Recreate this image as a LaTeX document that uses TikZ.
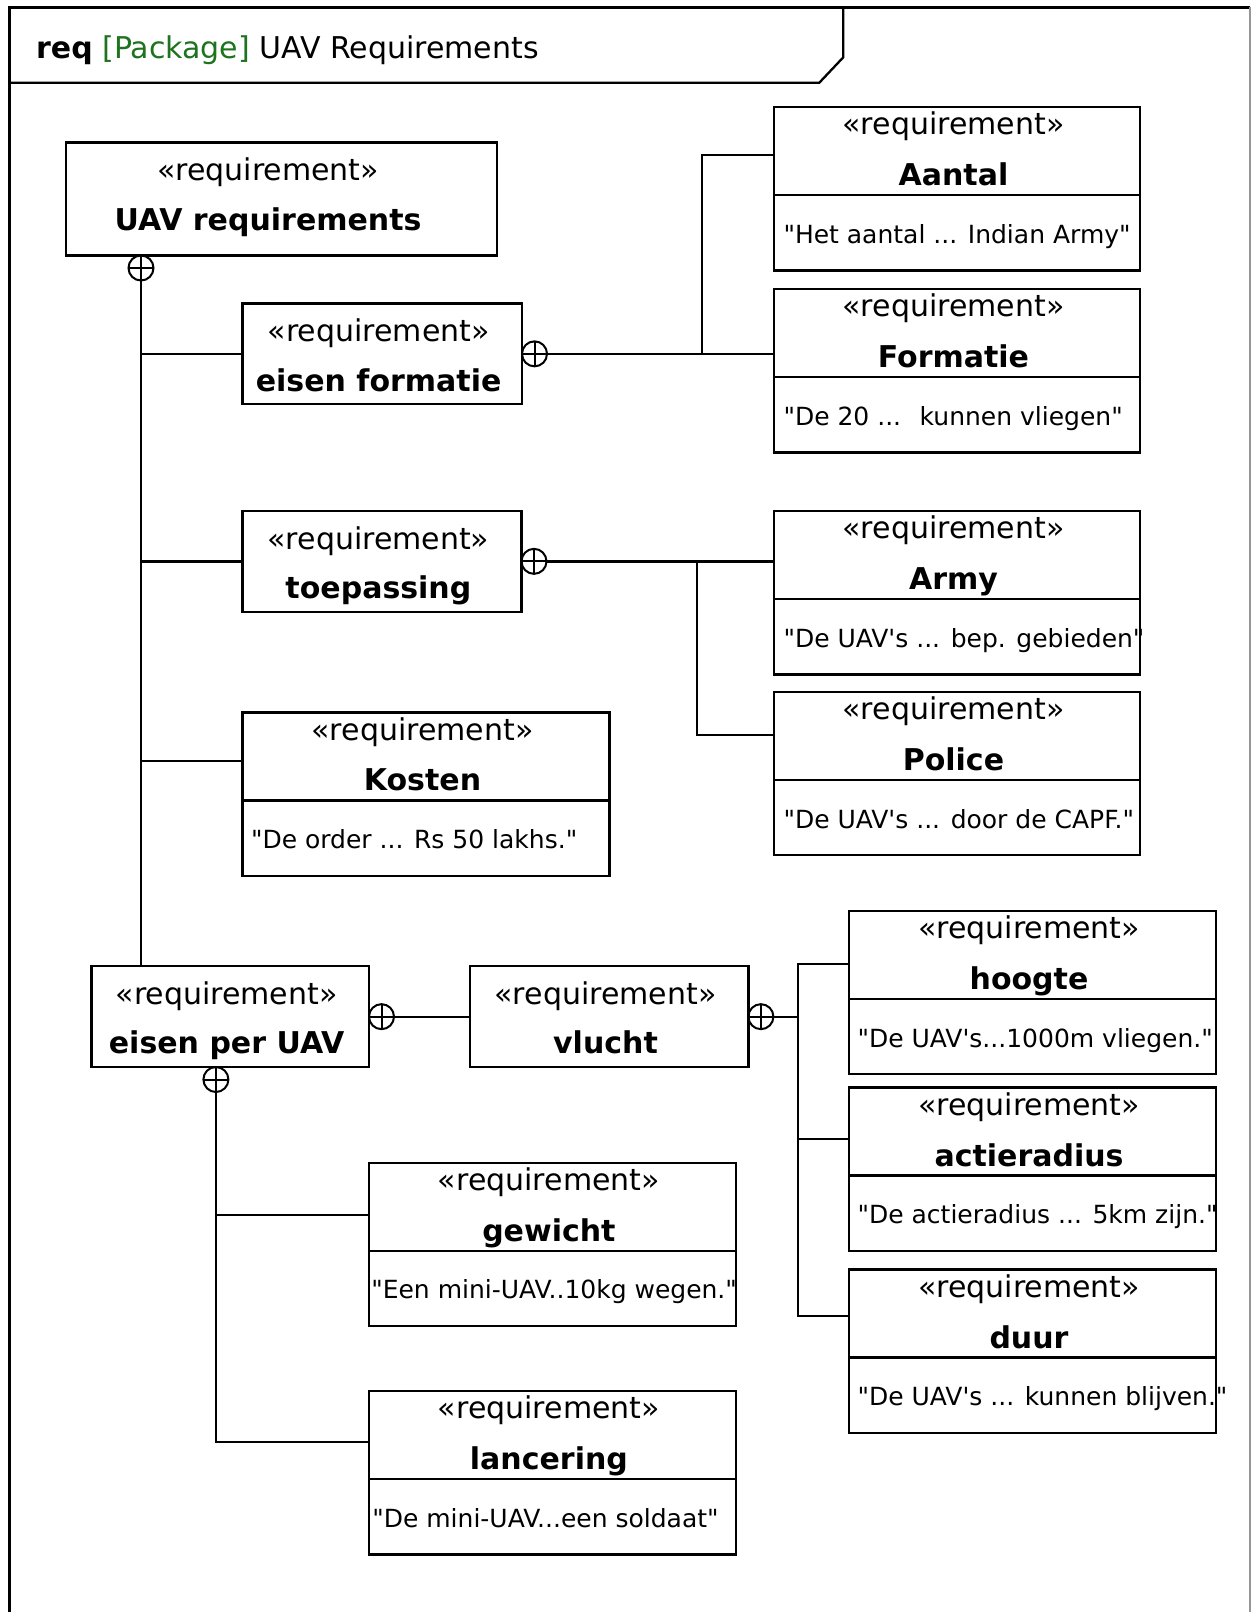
\documentclass[tikz,border=0pt]{standalone}
\usepackage{fontspec}
\setmainfont{DejaVu Sans}[Ligatures=TeXOff]
\usetikzlibrary{calc}
\definecolor{pkggreen}{RGB}{30,115,30}
\definecolor{framegray}{RGB}{150,150,150}

\tikzset{
  boxbase/.style={draw, rectangle, line width=2.3pt, inner sep=0pt, outer sep=0pt, anchor=north west},
  fullbox/.style={boxbase, minimum height=163.5pt},
  plainbox/.style={boxbase, minimum height=100.7pt},
  stereo/.style={font=\fontsize{30}{36}\selectfont, inner sep=0pt, text height=22.5pt, text depth=7.5pt},
  reqname/.style={font=\fontsize{30}{36}\selectfont\bfseries, inner sep=0pt, text height=22.5pt, text depth=7.5pt},
  bodytext/.style={font=\fontsize{25}{30}\selectfont, inner sep=0pt, anchor=west, text height=18.75pt, text depth=6.25pt},
  link/.style={line width=2.3pt},
  plus/.style={circle, draw, line width=2pt, minimum size=25pt, inner sep=0pt, outer sep=0pt,
    path picture={\draw[line width=2pt]
      (path picture bounding box.north) -- (path picture bounding box.south)
      (path picture bounding box.west) -- (path picture bounding box.east);}}
}

% requirement with name compartment only: name, x, y, width, height, title, title x-shift
\newcommand{\plainreq}[7]{%
  \node[plainbox, minimum width=#4, minimum height=#5] (#1) at (#2,#3) {};
  \node[stereo] at ([xshift=#7,yshift=-30.5pt]#1.north) {«requirement»};
  \node[reqname] at ([xshift=#7,yshift=-80pt]#1.north) {#6};
}
% requirement with text compartment: name, x, y, width, title, text, text x-offset
\newcommand{\fullreq}[7]{%
  \node[fullbox, minimum width=#4] (#1) at (#2,#3) {};
  \draw[link] ([yshift=-88pt]#1.north west) -- ([yshift=-88pt]#1.north east);
  \node[stereo] at ([xshift=-3.6pt,yshift=-20.5pt]#1.north) {«requirement»};
  \node[reqname] at ([xshift=-3.6pt,yshift=-71pt]#1.north) {#5};
  \node[bodytext] at ([xshift=#7,yshift=-130pt]#1.north west) {#6};
}

\begin{document}
\begin{tikzpicture}[x=1pt,y=-1pt]
\useasboundingbox (0,0) rectangle (1251,1612);

% diagram frame and name tab
\draw[line width=3pt] (9,1612) -- (9,7) -- (1250,7);
\draw[framegray, line width=1.5pt] (1250,7) -- (1250,1612);
\draw[line width=2.3pt] (9,82.7) -- (819.3,82.7) -- (843.3,57.3) -- (843.3,7);
\node[anchor=base west, inner sep=0pt, font=\fontsize{30}{36}\selectfont] (title) at (36,58.5)
  {\textbf{req} \textcolor{pkggreen}{[Package]} UAV Requirements};

% left-hand tree
\plainreq{uav}{66}{142.5}{431}{113}{UAV requirements}{-13.4pt}
\plainreq{formReq}{242.5}{303.5}{279.5}{100.7}{eisen formatie}{-3.6pt}
\plainreq{toep}{242.5}{511}{279}{100.7}{toepassing}{-3.6pt}
\fullreq{kosten}{242.6}{712.4}{367}{Kosten}{"De order ... Rs 50 lakhs."}{8.2pt}
\plainreq{perUAV}{91.5}{966.3}{277.5}{100.7}{eisen per UAV}{-3.6pt}
\plainreq{vlucht}{469.8}{966.3}{278.6}{100.7}{vlucht}{-3.6pt}

% right-hand requirements
\fullreq{aantal}{774.1}{106.9}{365.9}{Aantal}{"Het aantal ... Indian Army"}{9.2pt}
\fullreq{formatie}{774.1}{288.9}{365.9}{Formatie}{"De 20 ... \ kunnen vliegen"}{9.2pt}
\fullreq{army}{774.1}{510.9}{365.9}{Army}{"De UAV's ... bep. gebieden"}{9.2pt}
\fullreq{police}{774.1}{691.8}{365.9}{Police}{"De UAV's ... door de CAPF."}{9.2pt}
\fullreq{hoogte}{849.1}{910.8}{367}{hoogte}{"De UAV's...1000m vliegen."}{8.3pt}
\fullreq{actie}{849.1}{1087.6}{367}{actieradius}{"De actieradius ... 5km zijn."}{8.3pt}
\fullreq{duur}{849.1}{1269.6}{367}{duur}{"De UAV's ... kunnen blijven."}{8.3pt}
\fullreq{gewicht}{369}{1162.7}{367}{gewicht}{"Een mini-UAV..10kg wegen."}{2.1pt}
\fullreq{lancering}{369}{1390.9}{367}{lancering}{"De mini-UAV...een soldaat"}{3.1pt}

% containment from UAV requirements
\node[plus, anchor=north] (uavP) at ([xshift=75pt]uav.south west) {};
\coordinate (kostenIn) at ([yshift=-48.3pt]kosten.north west);
\draw[link] (uavP.south) -- (uavP.south |- perUAV.north);
\draw[link] (uavP.south |- formReq.west) -- (formReq.west);
\draw[link] (uavP.south |- toep.west) -- (toep.west);
\draw[link] (uavP.south |- kostenIn) -- (kostenIn);

% containment from eisen formatie
\node[plus, anchor=west] (formP) at (formReq.east) {};
\coordinate (aantalIn) at ([yshift=-48.3pt]aantal.north west);
\coordinate (fork1) at ($(formP.east -| formatie.west)+(-72,0)$);
\draw[link] (formP.east) -- (formP.east -| formatie.west);
\draw[link] (fork1) |- (aantalIn);

% containment from toepassing
\node[plus, anchor=west] (toepP) at (toep.east) {};
\coordinate (policeIn) at ([yshift=-43.2pt]police.north west);
\coordinate (fork2) at ($(toepP.east -| army.west)+(-77,0)$);
\draw[link] (toepP.east) -- (toepP.east -| army.west);
\draw[link] (fork2) |- (policeIn);

% containment from eisen per UAV
\node[plus, anchor=west] (perP) at (perUAV.east) {};
\draw[link] (perP.east) -- (vlucht.west);
\node[plus, anchor=north] (perB) at ([xshift=124.4pt]perUAV.south west) {};
\coordinate (gewichtIn) at ([yshift=-52.3pt]gewicht.north west);
\coordinate (lanceringIn) at ([yshift=-51.4pt]lancering.north west);
\draw[link] (perB.south) |- (lanceringIn);
\draw[link] (perB.south |- gewichtIn) -- (gewichtIn);

% containment from vlucht
\node[plus, anchor=west] (vluchtP) at (vlucht.east) {};
\coordinate (hoogteIn) at ([yshift=-53.5pt]hoogte.north west);
\coordinate (actieIn) at ([yshift=-51.4pt]actie.north west);
\coordinate (duurIn) at ([yshift=-46.6pt]duur.north west);
\coordinate (bus) at ($(vluchtP.east -| hoogte.west)+(-51.4,0)$);
\draw[link] (vluchtP.east) -- (bus);
\draw[link] (hoogteIn) -| (bus |- duurIn) -- (duurIn);
\draw[link] (bus |- actieIn) -- (actieIn);
\end{tikzpicture}
\end{document}
